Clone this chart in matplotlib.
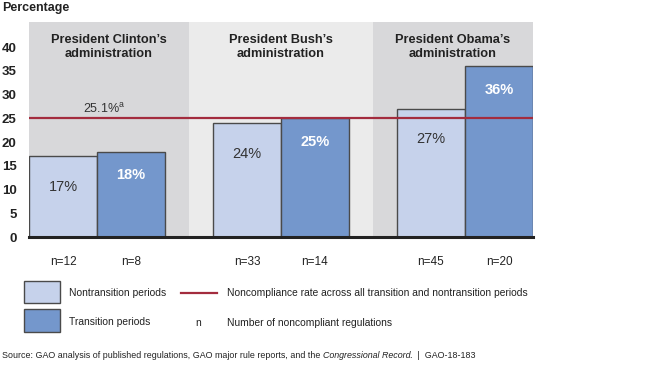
import matplotlib as mpl
import matplotlib.pyplot as plt
from matplotlib.patches import Rectangle
from matplotlib.lines import Line2D
import numpy as np

plt.rcParams['font.family'] = ['Liberation Sans', 'DejaVu Sans']
plt.rcParams['mathtext.fontset'] = 'custom'
plt.rcParams['mathtext.rm'] = 'Liberation Sans'

# data
admins = ["President Clinton\u2019s\nadministration",
          "President Bush\u2019s\nadministration",
          "President Obama\u2019s\nadministration"]
nontransition = [17, 24, 27]
transition = [18, 25, 36]
n_nontransition = [12, 33, 45]
n_transition = [8, 14, 20]
overall_rate = 25.1

light = "#c6d2eb"
dark = "#7497cc"
edge = "#4a4a4a"
red = "#a32c3e"

fig = plt.figure(figsize=(6.5, 3.69), dpi=100)
ax = fig.add_axes([29/650, 1-237/369, 504/650, 215/369])

w = 0.37
x = np.arange(len(admins))
xl, xr = -w, len(admins) - 1 + w
ax.set_xlim(xl, xr)
ax.set_ylim(0, 45.3)

# admin panels
bounds = [xl] + [i + 0.5 for i in range(len(admins) - 1)] + [xr]
panel_cols = ["#d8d8da", "#ebebeb", "#d8d8da"]
for i in range(len(admins)):
    ax.axvspan(bounds[i], bounds[i+1], color=panel_cols[i], zorder=0, lw=0)
    ax.text((bounds[i] + bounds[i+1]) / 2, 40.0, admins[i], ha="center", va="center",
            fontsize=9.2, fontweight="bold", color="#222222", linespacing=1.15)

b1 = ax.bar(x - w/2, nontransition, w, color=light, edgecolor=edge, lw=1, zorder=2)
b2 = ax.bar(x + w/2, transition, w, color=dark, edgecolor=edge, lw=1, zorder=2)

for r, v in zip(b1, nontransition):
    ax.annotate(f"{v}%", (r.get_x() + r.get_width()/2, v), xytext=(0, -22),
                textcoords="offset points", ha="center", va="center",
                fontsize=10.5, color="#333333")
for r, v in zip(b2, transition):
    ax.annotate(f"{v}%", (r.get_x() + r.get_width()/2, v), xytext=(0, -17),
                textcoords="offset points", ha="center", va="center",
                fontsize=10.5, color="white", fontweight="bold")

for r, n in zip(b1, n_nontransition):
    ax.text(r.get_x() + r.get_width()/2, -5.3, f"n={n}", ha="center", va="center",
            fontsize=8.5, color="#222222", clip_on=False)
for r, n in zip(b2, n_transition):
    ax.text(r.get_x() + r.get_width()/2, -5.3, f"n={n}", ha="center", va="center",
            fontsize=8.5, color="#222222", clip_on=False)

ax.axhline(overall_rate, color=red, lw=1.6, zorder=3)
ax.text(0.04, overall_rate + 1.9, f"{overall_rate}%" + r"$^{\rm a}$", ha="center",
        va="center", fontsize=9, color="#333333")

for s in ["top", "right", "left"]:
    ax.spines[s].set_visible(False)
ax.spines["bottom"].set_linewidth(2.2)
ax.spines["bottom"].set_color("#222222")
ax.set_xticks([])
ax.set_yticks(range(0, 41, 5))
ax.tick_params(axis="y", length=0, pad=9, labelsize=9.5)
for t in ax.get_yticklabels():
    t.set_fontweight("bold")
    t.set_color("#222222")

fig.text(2/650, 1-8/369, "Percentage", fontsize=9, fontweight="bold", color="#222222",
         va="center", ha="left")

# legend
def px(xp, yp):
    return xp/650, 1-yp/369

fig.patches.append(Rectangle(px(24, 303), 36/650, 22/369, transform=fig.transFigure,
                             facecolor=light, edgecolor=edge, lw=1))
fig.patches.append(Rectangle(px(24, 332), 36/650, 23/369, transform=fig.transFigure,
                             facecolor=dark, edgecolor=edge, lw=1))
fig.lines.append(Line2D([181/650, 217/650], [1-293/369]*2, transform=fig.transFigure,
                        color=red, lw=1.6))
leg_kw = dict(fontsize=7.4, color="#222222", va="center", ha="left")
fig.text(*px(69, 293), "Nontransition periods", **leg_kw)
fig.text(*px(69, 322), "Transition periods", **leg_kw)
fig.text(*px(227, 293), "Noncompliance rate across all transition and nontransition periods", **leg_kw)
fig.text(*px(198, 323), "n", fontsize=7.4, color="#222222", va="center", ha="center")
fig.text(*px(227, 323), "Number of noncompliant regulations", **leg_kw)

src_kw = dict(fontsize=6.4, color="#222222", va="center", ha="left")
t1 = fig.text(*px(2, 356), "Source: GAO analysis of published regulations, GAO major rule reports, and the ", **src_kw)
fig.canvas.draw()
bb = t1.get_window_extent()
t2 = fig.text(bb.x1/650, 1-356/369, "Congressional Record", style="italic", **src_kw)
bb2 = t2.get_window_extent()
fig.text(bb2.x1/650, 1-356/369, ".  |  GAO-18-183", **src_kw)

fig.savefig("out.png", dpi=100)
